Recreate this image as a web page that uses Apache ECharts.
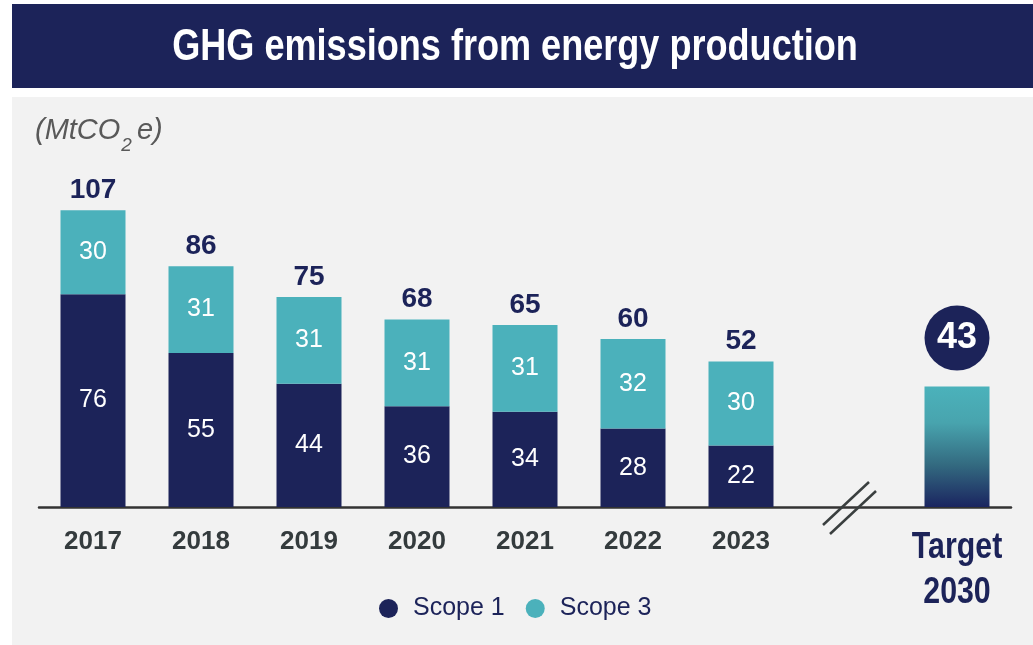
<!DOCTYPE html>
<html><head><meta charset="utf-8">
<script src="https://cdn.jsdelivr.net/npm/echarts@6/dist/echarts.min.js"></script>
<style>html,body{margin:0;padding:0;background:#fff}#c{width:1033px;height:645px}</style>
</head><body><div id="c"></div>
<script>
const categories = ['2017','2018','2019','2020','2021','2022','2023','','Target\n2030'];
const scope1 = [76, 55, 44, 36, 34, 28, 22, '-', '-'];
const scope3 = [30, 31, 31, 31, 31, 32, 30, '-', '-'];
const totals = [107, 86, 75, 68, 65, 60, 52, '-', '-'];
const target = ['-', '-', '-', '-', '-', '-', '-', '-', 43];
const totalBase = totals.map(v => v === '-' ? '-' : 0);

const NAVY = '#1c2359', TEAL = '#4bb1bb';
const ARIAL = 'Arial, "Liberation Sans", sans-serif';
const chart = echarts.init(document.getElementById('c'), null, {renderer: 'canvas'});
const bgGraphics = [
  {type: 'rect', left: 12, top: 4, shape: {width: 1021, height: 84}, style: {fill: NAVY}, z: -10},
  {type: 'rect', left: 12, top: 97, shape: {width: 1021, height: 548}, style: {fill: '#f2f2f2'}, z: -10},
  {type: 'text', x: 515, y: 48, scaleX: 0.82,
   style: {text: 'GHG emissions from energy production', x: 0, y: 0, align: 'center', verticalAlign: 'middle',
     fill: '#fff', font: 'bold 44px "Liberation Sans", Arial, sans-serif'}, z: 10}
];
const option = {
  backgroundColor: '#ffffff',
  animation: false,
  graphic: bgGraphics,
  title: [
    {text: '{a|(MtCO}{s|2}{a|e)}', left: 30, top: 106,
     textStyle: {rich: {
       a: {fontFamily: ARIAL, fontStyle: 'italic', fontWeight: 'normal', fontSize: 29, color: '#595959', lineHeight: 34, verticalAlign: 'bottom'},
       s: {fontFamily: ARIAL, fontStyle: 'italic', fontWeight: 'normal', fontSize: 19, color: '#595959', lineHeight: 34, verticalAlign: 'bottom', padding: [0, 5, -10, 1]}
     }}}
  ],
  legend: {
    data: ['Scope 1', 'Scope 3'], left: 374, top: 591, icon: 'circle',
    itemWidth: 19, itemHeight: 19, itemGap: 21,
    textStyle: {color: NAVY, fontFamily: ARIAL, fontSize: 25, padding: [0, 0, 0, 10]}
  },
  grid: {left: 39, width: 972, top: 171, bottom: 138, containLabel: false},
  xAxis: {
    type: 'category', data: categories,
    axisLine: {lineStyle: {color: '#333', width: 2.5}},
    axisTick: {show: false},
    axisLabel: {
      interval: 0, margin: 22,
      formatter: v => (v.indexOf('Target') === 0 ? '' : v),
      fontFamily: ARIAL, fontWeight: 'bold', fontSize: 26, color: '#343b3d'
    }
  },
  yAxis: {type: 'value', min: 0, max: 120, show: false},
  series: [
    {name: 'Scope 1', type: 'bar', stack: 's', data: scope1, barWidth: 65,
     itemStyle: {color: NAVY},
     label: {show: true, position: 'inside', color: '#fff', fontSize: 25, fontFamily: ARIAL}},
    {name: 'Scope 3', type: 'bar', stack: 's', data: scope3, barWidth: 65,
     itemStyle: {color: TEAL},
     label: {show: true, position: 'inside', color: '#fff', fontSize: 25, fontFamily: ARIAL}},
    {name: 'Total', type: 'bar', stack: 's', data: totalBase, barWidth: 65,
     itemStyle: {color: 'rgba(0,0,0,0)'},
     label: {show: true, position: 'top', distance: 6, color: NAVY, fontWeight: 'bold', fontSize: 28,
       fontFamily: ARIAL, formatter: p => totals[p.dataIndex]}},
    {name: 'Target', type: 'bar', stack: 's', data: target, barWidth: 65,
     itemStyle: {color: new echarts.graphic.LinearGradient(0, 0, 0, 1, [
       {offset: 0, color: '#4bb2bb'}, {offset: 0.3, color: '#48a4ae'},
       {offset: 0.65, color: '#336a80'}, {offset: 1, color: '#1b2560'}])},
     label: {show: true, position: 'top', distance: 16, formatter: '{c|{c}}',
       rich: {c: {backgroundColor: NAVY, borderRadius: 33, width: 65, height: 65, lineHeight: 65, align: 'center',
         color: '#fff', fontWeight: 'bold', fontSize: 36, fontFamily: ARIAL}}}}
  ]
};
chart.setOption(option);
// axis break marks at the empty category, and the condensed target label
const bx = chart.convertToPixel({xAxisIndex: 0}, 7);
const tx = chart.convertToPixel({xAxisIndex: 0}, 8);
const by = chart.convertToPixel({yAxisIndex: 0}, 0);
const targetLines = categories[8].split('\n');
chart.setOption({graphic: bgGraphics.concat([
  {type: 'line', shape: {x1: bx - 26, y1: by + 18, x2: bx + 20, y2: by - 25}, style: {stroke: '#3a3f3f', lineWidth: 2.5}, z: 10},
  {type: 'line', shape: {x1: bx - 19, y1: by + 27, x2: bx + 27, y2: by - 16}, style: {stroke: '#3a3f3f', lineWidth: 2.5}, z: 10}
], targetLines.map((s, i) => ({
  type: 'text', x: tx, y: by + 41 + i * 45, scaleX: 0.82,
  style: {text: s, x: 0, y: 0, align: 'center', verticalAlign: 'middle', fill: NAVY,
    font: 'bold 37px "Liberation Sans", Arial, sans-serif'}, z: 10
})))});
</script></body></html>
